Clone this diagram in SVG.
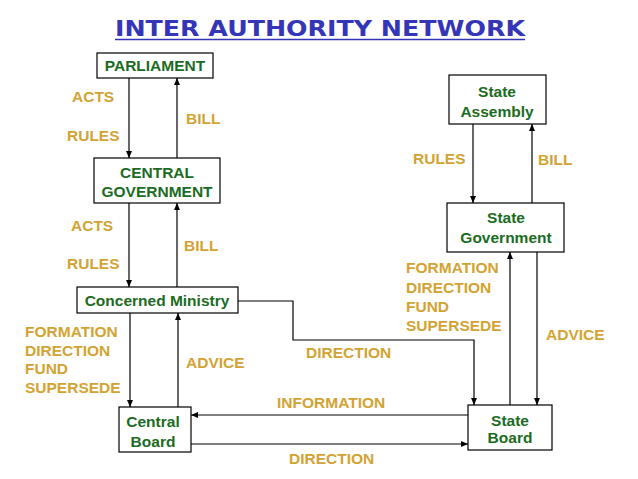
<svg xmlns="http://www.w3.org/2000/svg" width="638" height="479" viewBox="0 0 638 479">
<style>
.box{fill:#fff;stroke:#000;stroke-width:1.2}
.nt{font-family:"Liberation Sans",Arial,sans-serif;font-weight:bold;font-size:15.5px;fill:#1b6b22;text-anchor:middle}
.lb{font-family:"Liberation Sans",Arial,sans-serif;font-weight:bold;font-size:15.5px;fill:#d3a332}
.cn{fill:none;stroke:#000;stroke-width:1.2;marker-end:url(#ah)}
.title{font-family:"DejaVu Sans",Verdana,sans-serif;font-weight:bold;font-size:22px;fill:#3535b8;text-anchor:middle}
</style>
<defs>
<marker id="ah" markerUnits="userSpaceOnUse" markerWidth="7" markerHeight="6" refX="7" refY="3" orient="auto">
<path d="M0,0 L7,3 L0,6 z" fill="#000"/>
</marker>
</defs>
<rect width="638" height="479" fill="#fff"/>
<text class="title" x="320" y="36" textLength="410" lengthAdjust="spacingAndGlyphs">INTER AUTHORITY NETWORK</text>
<line x1="115" y1="39.5" x2="525" y2="39.5" stroke="#3535b8" stroke-width="1.6"/>

<g id="connectors">
<path class="cn" d="M129,78 V158"/>
<path class="cn" d="M177,158 V78"/>
<path class="cn" d="M129,203 V287"/>
<path class="cn" d="M177,287 V203"/>
<path class="cn" d="M130,313 V407"/>
<path class="cn" d="M178,407 V313"/>
<path class="cn" d="M238,301 H293 V340 H474 V405"/>
<path class="cn" d="M468,415 H191"/>
<path class="cn" d="M191,444 H468"/>
<path class="cn" d="M473,124 V203"/>
<path class="cn" d="M532,203 V124"/>
<path class="cn" d="M510,405 V252"/>
<path class="cn" d="M537,252 V405"/>
</g>

<g id="parliament">
<rect class="box" x="97" y="53" width="116" height="25"/>
<text class="nt" x="155" y="71">PARLIAMENT</text>
</g>
<g id="central-government">
<rect class="box" x="94" y="158" width="126" height="45"/>
<text class="nt" x="157" y="178">CENTRAL</text>
<text class="nt" x="157" y="197">GOVERNMENT</text>
</g>
<g id="concerned-ministry">
<rect class="box" x="77" y="287" width="161" height="26"/>
<text class="nt" x="157" y="306">Concerned Ministry</text>
</g>
<g id="central-board">
<rect class="box" x="119" y="407" width="72" height="45"/>
<text class="nt" x="153" y="427">Central</text>
<text class="nt" x="153" y="447">Board</text>
</g>
<g id="state-assembly">
<rect class="box" x="449" y="75" width="97" height="49"/>
<text class="nt" x="497" y="97">State</text>
<text class="nt" x="497" y="117">Assembly</text>
</g>
<g id="state-government">
<rect class="box" x="447" y="203" width="117" height="49"/>
<text class="nt" x="506" y="223">State</text>
<text class="nt" x="506" y="243">Government</text>
</g>
<g id="state-board">
<rect class="box" x="468" y="405" width="84" height="45"/>
<text class="nt" x="510" y="426">State</text>
<text class="nt" x="510" y="443">Board</text>
</g>

<g id="labels">
<text class="lb" x="72" y="102">ACTS</text>
<text class="lb" x="67" y="141">RULES</text>
<text class="lb" x="186" y="124">BILL</text>
<text class="lb" x="71" y="231">ACTS</text>
<text class="lb" x="67" y="269">RULES</text>
<text class="lb" x="184" y="251">BILL</text>
<text class="lb" x="25" y="337">FORMATION</text>
<text class="lb" x="25" y="356">DIRECTION</text>
<text class="lb" x="25" y="374">FUND</text>
<text class="lb" x="25" y="393">SUPERSEDE</text>
<text class="lb" x="186" y="368">ADVICE</text>
<text class="lb" x="306" y="358">DIRECTION</text>
<text class="lb" x="277" y="408">INFORMATION</text>
<text class="lb" x="289" y="464">DIRECTION</text>
<text class="lb" x="413" y="164">RULES</text>
<text class="lb" x="538" y="165">BILL</text>
<text class="lb" x="406" y="273">FORMATION</text>
<text class="lb" x="406" y="293">DIRECTION</text>
<text class="lb" x="406" y="312">FUND</text>
<text class="lb" x="406" y="331">SUPERSEDE</text>
<text class="lb" x="546" y="340">ADVICE</text>
</g>
</svg>
